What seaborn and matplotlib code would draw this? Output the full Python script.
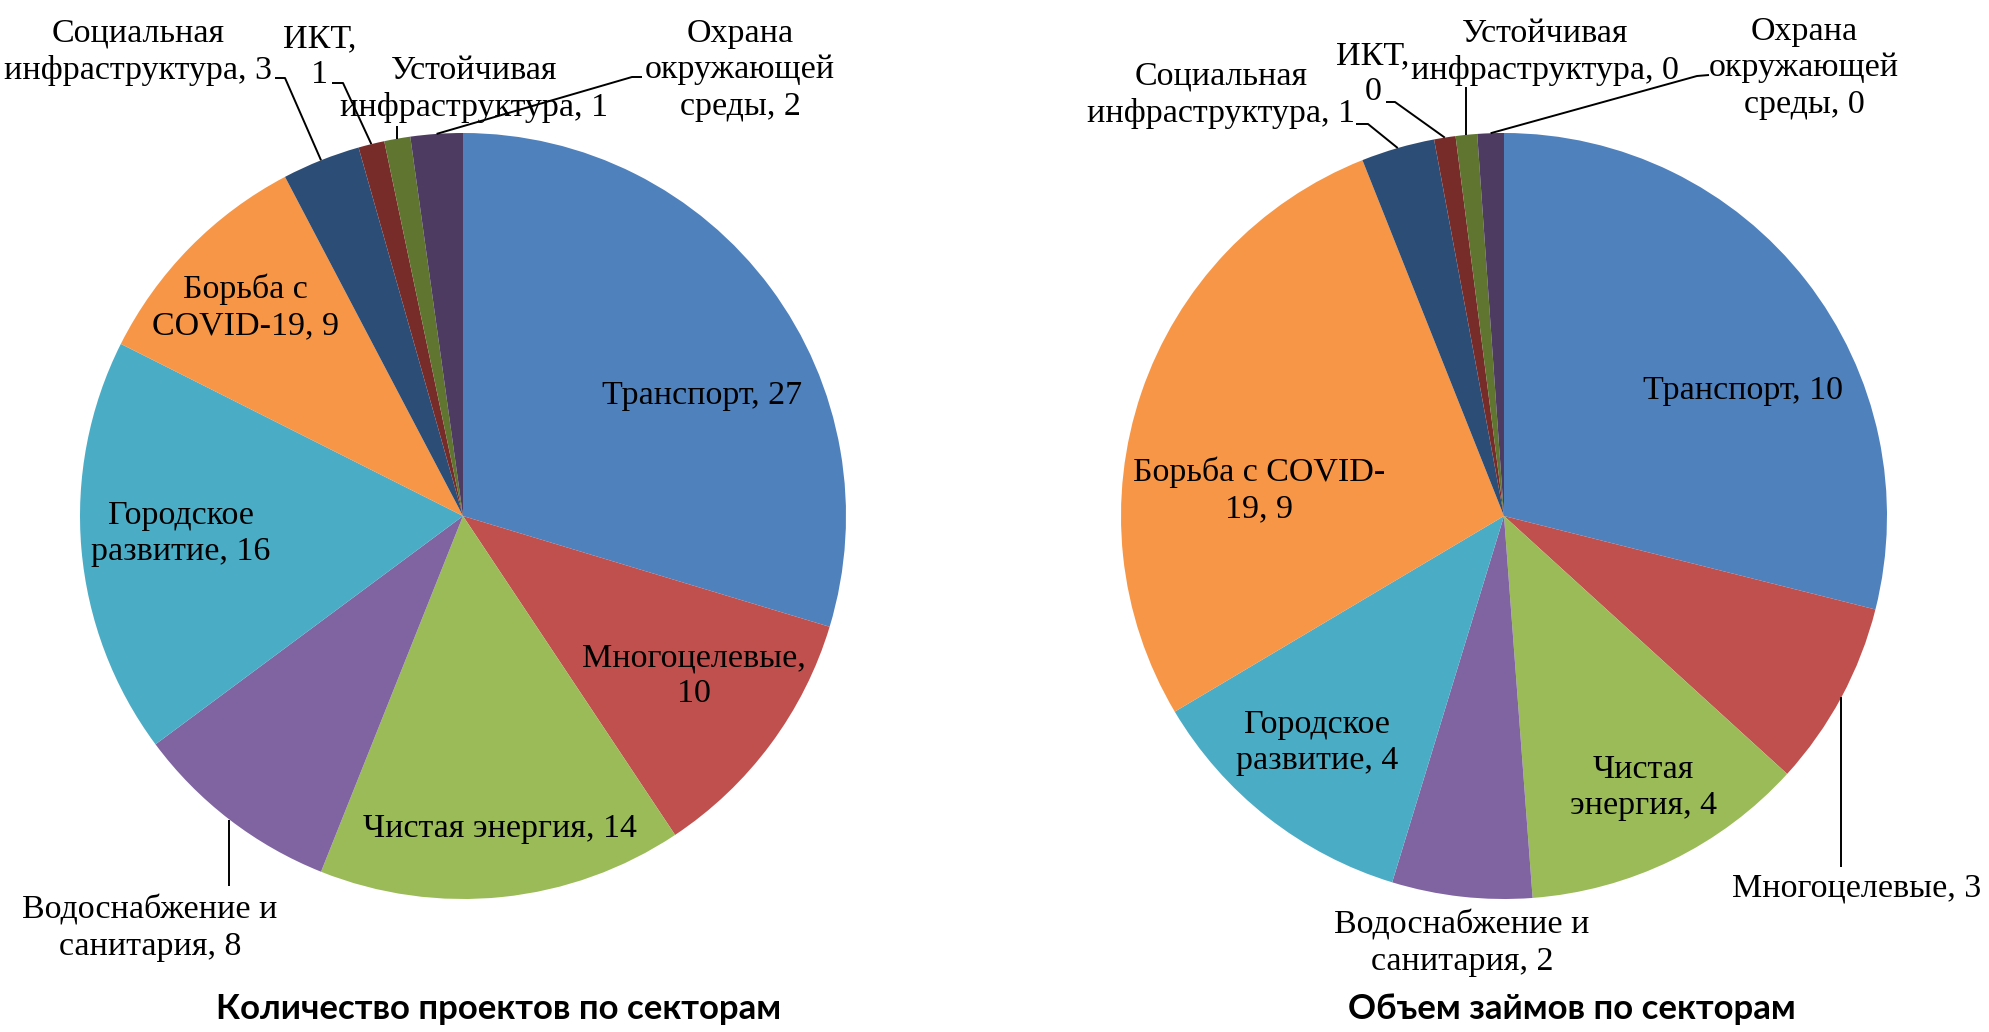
import numpy as np
import matplotlib
matplotlib.use("Agg")
import matplotlib.pyplot as plt
import seaborn as sns

# ---------------- data ----------------
sectors = ["Транспорт", "Многоцелевые", "Чистая энергия", "Водоснабжение и санитария",
           "Городское развитие", "Борьба с COVID-19", "Социальная инфраструктура",
           "ИКТ", "Устойчивая инфраструктура", "Охрана окружающей среды"]
projects_count = [27, 10, 14, 8, 16, 9, 3, 1, 1, 2]
loan_volume = [9.6, 2.6, 4.0, 1.96, 3.9, 9.13, 1.03, 0.3, 0.3, 0.37]

# wrapped label templates (how the names break in each chart)
left_templates = ["Транспорт, {}", "Многоцелевые,\n{}", "Чистая энергия, {}",
                  "Водоснабжение и\nсанитария, {}", "Городское\nразвитие, {}",
                  "Борьба с\nCOVID-19, {}", "Социальная\nинфраструктура, {}",
                  "ИКТ,\n{}", "Устойчивая\nинфраструктура, {}",
                  "Охрана\nокружающей\nсреды, {}"]
right_templates = ["Транспорт, {}", "Многоцелевые, {}", "Чистая\nэнергия, {}",
                   "Водоснабжение и\nсанитария, {}", "Городское\nразвитие, {}",
                   "Борьба с COVID-\n19, {}", "Социальная\nинфраструктура, {}",
                   "ИКТ,\n{}", "Устойчивая\nинфраструктура, {}",
                   "Охрана\nокружающей\nсреды, {}"]
titles = ["Количество проектов по секторам", "Объем займов по секторам"]

colors = ["#4F81BD", "#C0504D", "#9BBB59", "#8064A2", "#4BACC6",
          "#F79646", "#2C4D75", "#772C2A", "#5F7530", "#4D3B62"]

# ---------------- layout (pixel coordinates, y measured from top) ----------------
W, H = 1990, 1032
R = 383
centers = [(463, 516), (1504, 516)]

left_pos = [(702, 396), (694, 676), (500, 829), (150, 928), (181, 534),
            (245, 307), (138, 52), (320, 57), (474, 89), (740, 70)]
right_pos = [(1743, 391), (1857, 888), (1643, 788), (1462, 943), (1317, 743),
             (1259, 490), (1221, 95), (1373, 74), (1545, 52), (1804, 68)]

# leaders: index -> ("elbow", [(x,y) label-side points]) or ("vert", y_end)
left_leaders = {3: ("vert", 886), 6: ("elbow", [(275, 78), (285, 78)]),
                7: ("elbow", [(332, 83), (343, 83)]), 8: ("vert", 126),
                9: ("elbow", [(642, 77), (632, 77)])}
right_leaders = {1: ("vert", 867), 6: ("elbow", [(1356, 124), (1368, 124)]),
                 7: ("elbow", [(1386, 102), (1395, 102)]), 8: ("vert", 87),
                 9: ("elbow", [(1709, 75), (1697, 76)])}

title_pos = [(499, 1019), (1572, 1019)]

sns.set_theme(style="white")
palette = sns.color_palette(colors)
plt.rcParams['font.family'] = ['Liberation Serif', 'DejaVu Serif']

fig = plt.figure(figsize=(W / 100, H / 100), dpi=100)
ax = fig.add_axes([0, 0, 1, 1])


def Y(y):
    return H - y


label_fs = 24.5
for ci, (vals, templates, positions, leaders) in enumerate([
        (projects_count, left_templates, left_pos, left_leaders),
        (loan_volume, right_templates, right_pos, right_leaders)]):
    cx, cy = centers[ci]
    wedges, _ = ax.pie(vals, colors=palette, startangle=90, counterclock=False,
                       radius=R, center=(cx, Y(cy)),
                       wedgeprops=dict(linewidth=0))
    for i, (w, tpl, (tx, ty)) in enumerate(zip(wedges, templates, positions)):
        txt = tpl.format(f"{vals[i]:.0f}")
        ax.text(tx, Y(ty), txt, ha="center", va="center", fontsize=label_fs,
                color="black", linespacing=1.25, multialignment="center")
        if i in leaders:
            mid = np.deg2rad((w.theta1 + w.theta2) / 2)
            px = cx + R * np.cos(mid)
            py = Y(cy) + R * np.sin(mid)
            kind, spec = leaders[i]
            if kind == "vert":
                xs, ys = [px, px], [py, Y(spec)]
            else:
                xs = [p[0] for p in spec] + [px]
                ys = [Y(p[1]) for p in spec] + [py]
            ax.plot(xs, ys, color="black", linewidth=1.4, solid_capstyle="butt")
    ax.text(title_pos[ci][0], Y(title_pos[ci][1]), titles[ci], ha="center",
            va="baseline", fontsize=25, fontweight="bold",
            family=["Lato", "DejaVu Sans"], color="black")

ax.set_xlim(0, W)
ax.set_ylim(0, H)
ax.set_aspect("auto")
ax.axis("off")
fig.savefig("out.png", dpi=100, facecolor="white")
